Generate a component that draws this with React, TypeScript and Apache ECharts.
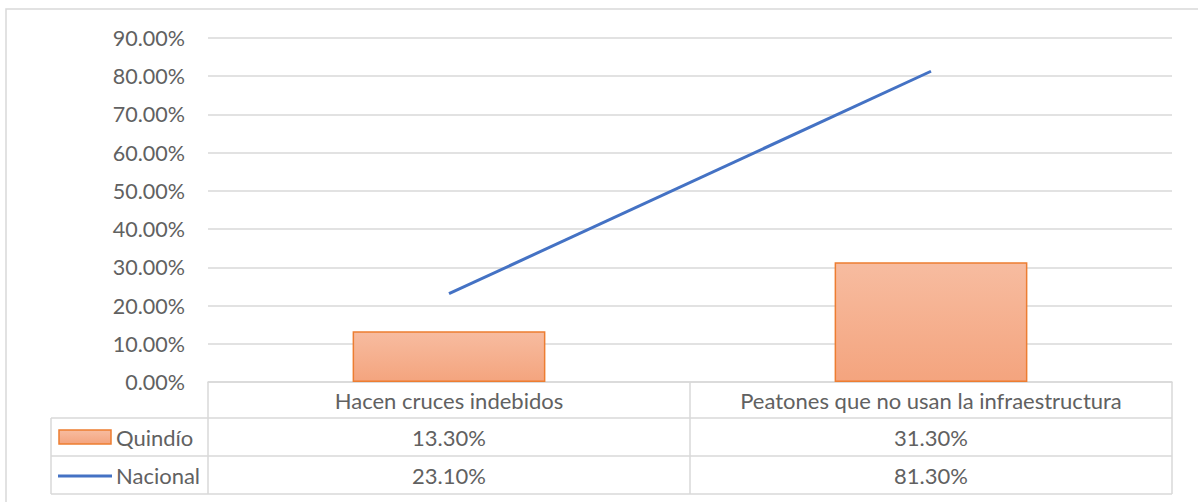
import React, { useEffect, useRef } from "react";
import * as echarts from "echarts";

const categories = ["Hacen cruces indebidos", "Peatones que no usan la infraestructura"];
const quindio = [13.3, 31.3];
const nacional = [23.1, 81.3];
const seriesNames = ["Quindío", "Nacional"];
const yMin = 0;
const yMax = 90;
const yStep = 10;

const W = 1198;
const H = 502;
const GL = 208;
const GR = 1172;
const GT = 38;
const GB = 382;
const ROW = [382, 418, 456, 494];
const LEGL = 51;
const FONT = "Lato, 'Open Sans', sans-serif";
const FS = 22;
const TXT = "#616161";
const LINEC = "#d9d9d9";

export default function App() {
  const ref = useRef<HTMLDivElement>(null);
  useEffect(() => {
    if (!ref.current) return;
    const chart = echarts.init(ref.current, null, { renderer: "svg" });
    const catW = (GR - GL) / categories.length;
    const fmt = (v: number) => v.toFixed(2) + "%";
    const g: any[] = [];
    g.push({ type: "rect", shape: { x: 6, y: 9, width: 1200, height: 600 }, style: { fill: "none", stroke: LINEC, lineWidth: 1.5 }, silent: true });
    const hl = (x1: number, x2: number, y: number) =>
      g.push({ type: "line", shape: { x1, y1: y, x2, y2: y }, style: { stroke: LINEC, lineWidth: 1.5 } });
    const vl = (x: number, y1: number, y2: number) =>
      g.push({ type: "line", shape: { x1: x, y1, x2: x, y2 }, style: { stroke: LINEC, lineWidth: 1.5 } });
    hl(GL, GR, ROW[1]);
    hl(LEGL, GR, ROW[2]);
    hl(LEGL, GR, ROW[3]);
    hl(LEGL, GL, ROW[1]);
    vl(GL, ROW[0], ROW[3]);
    categories.forEach((_, i) => vl(GL + catW * (i + 1), ROW[0], ROW[3]));
    vl(LEGL, ROW[1], ROW[3]);
    const rows = [quindio, nacional];
    rows.forEach((vals, r) => {
      const cy = (ROW[r + 1] + ROW[r + 2]) / 2;
      vals.forEach((v, i) => {
        g.push({
          type: "text",
          x: GL + catW * (i + 0.5),
          y: cy,
          style: { text: fmt(v), font: `${FS}px ${FONT}`, fill: TXT, align: "center", verticalAlign: "middle" },
        });
      });
      g.push({
        type: "text",
        x: 116,
        y: cy,
        style: { text: seriesNames[r], font: `${FS}px ${FONT}`, fill: TXT, align: "left", verticalAlign: "middle" },
      });
    });
    // legend keys
    g.push({
      type: "rect",
      shape: { x: 59, y: 430, width: 52, height: 14 },
      style: {
        fill: new echarts.graphic.LinearGradient(0, 0, 0, 1, [
          { offset: 0, color: "#f7bca0" },
          { offset: 1, color: "#f4a47e" },
        ]),
        stroke: "#ed7d31",
        lineWidth: 1.5,
      },
    });
    g.push({ type: "line", shape: { x1: 58, y1: 476, x2: 112, y2: 476 }, style: { stroke: "#4472c4", lineWidth: 3 } });

    chart.setOption({
      animation: false,
      backgroundColor: "#ffffff",
      grid: { left: GL, right: W - GR, top: GT, bottom: H - GB, containLabel: false },
      xAxis: {
        type: "category",
        data: categories,
        axisLine: { show: true, lineStyle: { color: LINEC, width: 1.5 } },
        axisTick: { show: false },
        axisLabel: { color: TXT, fontFamily: FONT, fontSize: FS, margin: 7, interval: 0 },
      },
      yAxis: {
        type: "value",
        min: yMin,
        max: yMax,
        interval: yStep,
        axisLine: { show: false },
        axisTick: { show: false },
        splitLine: { lineStyle: { color: LINEC, width: 1.5 } },
        axisLabel: { color: TXT, fontFamily: FONT, fontSize: 21.5, margin: 23, formatter: fmt },
      },
      series: [
        {
          name: seriesNames[0],
          type: "bar",
          data: quindio,
          barWidth: "40%",
          itemStyle: {
            color: new echarts.graphic.LinearGradient(0, 0, 0, 1, [
              { offset: 0, color: "#f7bca0" },
              { offset: 1, color: "#f4a47e" },
            ]),
            borderColor: "#ed7d31",
            borderWidth: 1.5,
          },
        },
        {
          name: seriesNames[1],
          type: "line",
          data: nacional,
          symbol: "none",
          lineStyle: { color: "#4472c4", width: 3 },
          z: 3,
        },
      ],
      graphic: g,
    });
    return () => chart.dispose();
  }, []);
  return (
    <div
      ref={ref}
      style={{ position: "absolute", left: 0, top: 0, width: W, height: H, background: "#fff" }}
    />
  );
}
